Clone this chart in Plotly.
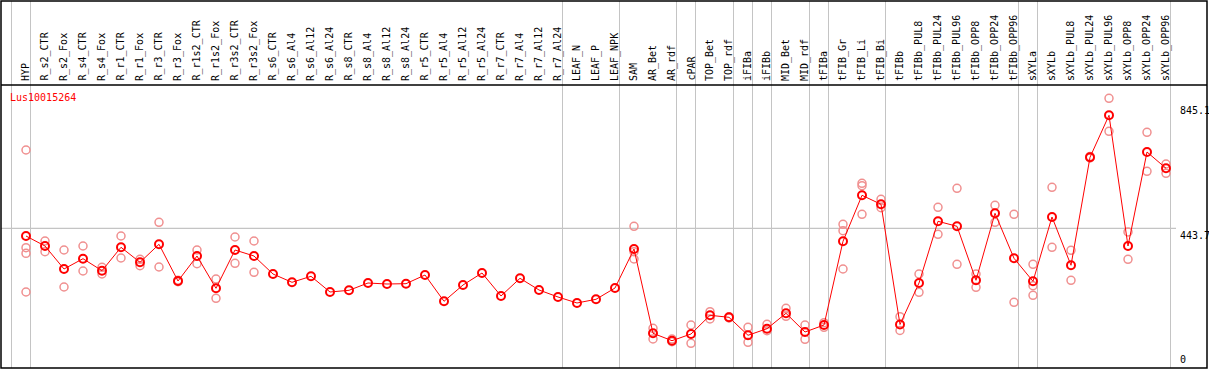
import plotly.graph_objects as go

categories = [
    "HYP", "R_s2_CTR", "R_s2_Fox", "R_s4_CTR", "R_s4_Fox", "R_r1_CTR", "R_r1_Fox",
    "R_r3_CTR", "R_r3_Fox", "R_r1s2_CTR", "R_r1s2_Fox", "R_r3s2_CTR", "R_r3s2_Fox",
    "R_s6_CTR", "R_s6_Al4", "R_s6_Al12", "R_s6_Al24", "R_s8_CTR", "R_s8_Al4",
    "R_s8_Al12", "R_s8_Al24", "R_r5_CTR", "R_r5_Al4", "R_r5_Al12", "R_r5_Al24",
    "R_r7_CTR", "R_r7_Al4", "R_r7_Al12", "R_r7_Al24", "LEAF_N", "LEAF_P", "LEAF_NPK",
    "SAM", "AR_Bet", "AR_rdf", "cPAR", "TOP_Bet", "TOP_rdf", "iFIBa", "iFIBb",
    "MID_Bet", "MID_rdf", "tFIBa", "tFIB_Gr", "tFIB_Li", "tFIB_Bi", "tFIBb",
    "tFIBb_PUL8", "tFIBb_PUL24", "tFIBb_PUL96", "tFIBb_OPP8", "tFIBb_OPP24",
    "tFIBb_OPP96", "sXYLa", "sXYLb", "sXYLb_PUL8", "sXYLb_PUL24", "sXYLb_PUL96",
    "sXYLb_OPP8", "sXYLb_OPP24", "sXYLb_OPP96",
]

means = [
    419.3, 387.3, 313.7, 346.7, 308.3, 383.2, 335.2, 392.8, 275.3, 355.3, 251.9,
    374.5, 355.3, 297.7, 271.1, 290.3, 240.1, 245.5, 268.9, 265.7, 266.7, 294.5,
    210.3, 262.5, 300.9, 227.3, 283.9, 246.5, 224.1, 204.9, 216.7, 252.9, 377.7,
    107.9, 84.2, 105.6, 165.5, 159.1, 101.5, 122.6, 171.9, 112.0, 134.4, 402.4,
    549.6, 520.8, 136.0, 268.9, 466.4, 450.4, 277.5, 492.0, 348.0, 274.3, 480.2,
    325.6, 671.3, 805.7, 387.3, 688.2, 636.1,
]

replicates = [
    [694.6, 381.9, 364.0, 240.1],
    [403.3, 369.1],
    [374.5, 256.1],
    [387.3, 307.3],
    [319.2, 297.7],
    [419.3, 348.9],
    [344.8, 324.3],
    [463.2, 320.1],
    [278.0, 273.0],
    [374.5, 330.7],
    [281.7, 219.9],
    [416.1, 332.0],
    [403.3, 303.1],
    [], [], [], [], [], [], [], [], [], [], [], [], [], [], [], [], [], [], [],
    [450.4, 369.1, 345.7],
    [123.9, 89.6],
    [89.6, 81.0],
    [134.4, 75.9],
    [177.0, 153.7],
    [160.7, 156.9],
    [127.1, 79.1],
    [136.7, 116.2],
    [187.9, 162.3],
    [134.4, 88.7],
    [141.8, 127.1],
    [456.8, 436.3, 313.7],
    [588.0, 580.4, 488.8],
    [536.8, 509.9],
    [161.0, 116.8],
    [297.7, 239.1],
    [511.2, 424.8],
    [572.0, 328.8],
    [297.7, 255.1],
    [517.6, 463.2],
    [488.8, 207.1],
    [328.8, 260.2, 229.5],
    [575.2, 383.2],
    [373.6, 277.5],
    [674.0, 669.0],
    [860.1, 754.5],
    [432.2, 344.8],
    [751.3, 626.5],
    [649.8, 620.1],
]

group_sizes = [1, 28, 3, 3, 1, 2, 1, 1, 2, 1, 3, 7, 1, 7]
ytick_vals = [0, 443.7, 845.1]
ytick_text = ["0", "443.7", "845.1"]
gene_name = "Lus10015264"

FONT = "DejaVu Sans Mono"
GRID = "#c4c4c4"
W, H = 1209, 370
ML, MR, MT, MB = 1, 2, 1, 2
plot_h = H - MT - MB
top_px = 85  # header separator line


def paper_y(py):
    return (H - MB - py) / plot_h


def paper_x(px):
    return (px - ML) / (W - ML - MR)


fig = go.Figure()

rx, ry = [], []
for i, reps in enumerate(replicates):
    for v in reps:
        rx.append(i)
        ry.append(v)

fig.add_trace(go.Scatter(
    x=rx, y=ry, mode="markers",
    marker=dict(symbol="circle-open", size=8, color="#f09090", line=dict(width=1.5)),
    hoverinfo="skip", showlegend=False, cliponaxis=False,
))
fig.add_trace(go.Scatter(
    x=list(range(len(categories))), y=means, mode="lines+markers",
    line=dict(color="#ff0000", width=1),
    marker=dict(symbol="circle-open", size=8, color="#ff0000", line=dict(width=2)),
    showlegend=False, cliponaxis=False,
))

shapes = []
b = -1
bounds = [b]
for s in group_sizes:
    b += s
    bounds.append(b)
for bd in bounds:
    shapes.append(dict(type="line", xref="x", yref="paper", x0=bd + 0.237, x1=bd + 0.237,
                       y0=0, y1=1, line=dict(color=GRID, width=1), layer="below"))
shapes.append(dict(type="line", xref="paper", yref="y", x0=0, x1=paper_x(1176),
                   y0=ytick_vals[1], y1=ytick_vals[1], line=dict(color=GRID, width=1.2),
                   layer="below"))
shapes.append(dict(type="line", xref="paper", yref="paper", x0=0, x1=1,
                   y0=paper_y(top_px), y1=paper_y(top_px), line=dict(color="black", width=1.5)))
shapes.append(dict(type="rect", xref="paper", yref="paper", x0=0, x1=1, y0=0, y1=1,
                   line=dict(color="black", width=1.5)))

annotations = []
for i, c in enumerate(categories):
    annotations.append(dict(x=i, y=paper_y(83), xref="x", yref="paper", text=c,
                            textangle=-90, showarrow=False, xanchor="center", yanchor="bottom",
                            font=dict(family=FONT, size=10, color="black")))
for v, t in zip(ytick_vals, ytick_text):
    annotations.append(dict(x=paper_x(1178), y=v, xref="paper", yref="y", text=t,
                            showarrow=False, xanchor="left",
                            yanchor="bottom" if v == 0 else "top",
                            font=dict(family=FONT, size=10, color="black")))
annotations.append(dict(x=paper_x(8), y=paper_y(97.5), xref="paper", yref="paper",
                        text=gene_name, showarrow=False, xanchor="left", yanchor="middle",
                        font=dict(family=FONT, size=10, color="#ff0000")))

fig.update_layout(
    width=W, height=H,
    margin=dict(l=ML, r=MR, t=MT, b=MB, autoexpand=False),
    paper_bgcolor="white", plot_bgcolor="white",
    xaxis=dict(range=[-25 / 19, -25 / 19 + (W - ML - MR) / 19], visible=False, fixedrange=True),
    yaxis=dict(range=[-3.2, 902.7], domain=[0, paper_y(top_px)], visible=False, fixedrange=True),
    shapes=shapes, annotations=annotations,
    showlegend=False,
)

fig.write_html(
    "out.html",
    config={"displayModeBar": False},
    post_script="document.body.style.margin='0px';document.body.style.overflow='hidden';",
)
